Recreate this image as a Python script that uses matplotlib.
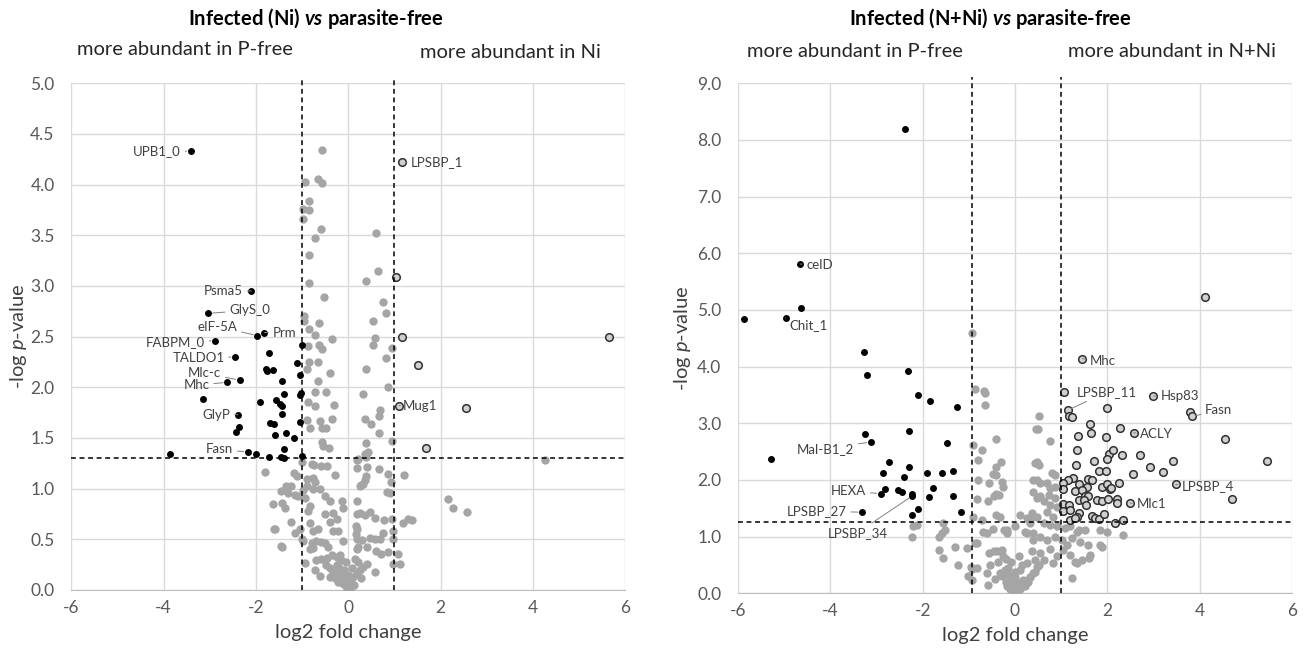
import matplotlib.pyplot as plt

plt.rcParams['font.family'] = ['Lato', 'DejaVu Sans']
plt.rcParams['axes.unicode_minus'] = False
plt.rcParams['mathtext.fontset'] = 'custom'
plt.rcParams['mathtext.rm'] = 'Lato'
plt.rcParams['mathtext.it'] = 'Lato:italic'
plt.rcParams['mathtext.bf'] = 'Lato:bold'
plt.rcParams['mathtext.bfit'] = 'Lato:bold:italic'

# ---------------- left panel: Infected (Ni) vs parasite-free ----------------
ni_gray_x = [-0.57, -0.93, -0.65, -0.56, -0.85, -0.98, -0.84, -0.98, -0.60, -0.73, -0.85, -0.85,
             -0.53, -0.96, -0.96, -0.85, -0.63, -0.73, -0.35, -0.87, -0.63, -0.57, -0.84, -0.66,
             -0.90, -0.40, -0.66, -0.71, -0.49, -0.88, -0.71, -0.31, -0.89, -0.61, -0.36, -0.83,
             -0.57, -0.49, -0.56, -0.54, -0.42,
             0.61, 0.65, 0.38, 0.76, 0.82, 0.53, 0.59, 0.53, 0.94, 0.82, 0.38, 0.87, 0.32, 0.69,
             0.67, 0.36, 0.49, 0.67, 0.95, 0.38, 0.36, 0.42, 4.27, 0.22,
             -1.01, -0.74, -0.58, -0.45, -0.79, -0.29, -1.80, -1.17, -1.12, -0.89, -0.72, -0.76,
             0.19, 0.38, 0.19, 0.41, 0.66, 0.38, 0.32, 0.93, 1.21, 0.91, 0.27, 0.36,
             -1.34, -1.23, -1.45, -1.30, -0.97, -0.89, -0.76, -0.62, -1.16, -1.08, -0.94, -0.51,
             -0.40, -0.14, -0.12, 0.18, 0.25, 0.83, -1.62, -1.44, -1.37, -0.83, -0.87, -0.51,
             -0.32, -0.25, 0.18, 0.25, 0.36, 0.48, 0.58, 0.77, 0.94, 1.19, 1.30, 1.39, 2.16,
             2.28, 2.57, 0.86,
             -1.23, -1.59, -1.16, -1.05, -0.83, -0.76, -0.65, -0.40, -0.32, -0.22, 0.16, 0.18,
             0.17, 0.76, 0.97, 0.98,
             -1.01, -0.97, -1.44, -0.79, -0.69, -0.58, -0.51, -0.43, -0.83, -0.76, -0.12, 0.18,
             0.29, 0.47, 0.58, 0.69, 0.18, 0.22, 0.40, 0.61, 0.72, 0.87, 1.08,
             -0.94, -0.69, -0.58, -0.47, -0.36, -0.25, -0.18, -0.72, -0.61, -0.48, -0.40, -0.32,
             -0.25, -0.19, -0.14, -0.09, -0.04, 0.00, 0.04, 0.11, 0.18, 0.25, 0.32, -0.07, -0.14,
             -0.22, -0.29, 0.07, 0.40, 0.58, 0.97, 1.13, 0.22, 0.14, -0.40,
             -0.10, 0.00, -0.05, 0.08, -0.20, 0.12, -0.02, 0.05, -0.15, 0.28, -1.60, -1.46]
ni_gray_y = [4.34, 4.03, 4.06, 4.02, 3.84, 3.76, 3.75, 3.66, 3.56, 3.47, 3.31, 3.03,
             2.89, 2.70, 2.65, 2.58, 2.63, 2.52, 2.48, 2.41, 2.42, 2.38, 2.25, 2.25,
             2.18, 2.14, 2.06, 1.95, 1.95, 1.86, 1.82, 1.83, 1.68, 1.67, 1.69, 1.60,
             1.60, 1.60, 1.46, 1.42, 1.40,
             3.52, 3.15, 3.05, 2.84, 2.73, 2.65, 2.49, 2.42, 2.39, 2.29, 2.18, 2.00, 1.93, 1.78,
             1.72, 1.69, 1.64, 1.55, 1.47, 1.45, 1.34, 1.36, 1.28, 1.29,
             1.26, 1.23, 1.22, 1.22, 1.24, 1.13, 1.16, 1.15, 1.12, 1.10, 1.07, 1.11,
             1.28, 1.31, 1.20, 1.21, 1.19, 1.12, 1.05, 1.07, 1.13, 0.96, 1.04, 1.09,
             1.03, 1.03, 0.98, 0.96, 0.99, 1.03, 1.00, 1.00, 0.94, 0.93, 0.91, 0.93,
             0.88, 0.88, 0.81, 0.88, 1.03, 0.97, 0.85, 0.86, 0.81, 0.83, 0.78, 0.75,
             0.76, 0.70, 0.75, 0.76, 0.74, 0.77, 0.71, 0.69, 0.70, 0.66, 0.70, 0.69, 0.90,
             0.81, 0.77, 1.14,
             0.67, 0.60, 0.56, 0.60, 0.66, 0.58, 0.60, 0.67, 0.58, 0.58, 0.63, 0.60,
             0.55, 0.56, 0.58, 0.50,
             0.50, 0.48, 0.42, 0.46, 0.48, 0.47, 0.46, 0.42, 0.40, 0.41, 0.48, 0.50,
             0.49, 0.51, 0.50, 0.50, 0.40, 0.42, 0.42, 0.38, 0.36, 0.37, 0.36,
             0.27, 0.30, 0.31, 0.32, 0.35, 0.33, 0.35, 0.20, 0.14, 0.25, 0.22, 0.18,
             0.25, 0.22, 0.17, 0.13, 0.10, 0.05, 0.08, 0.13, 0.17, 0.20, 0.23, 0.05, 0.07,
             0.08, 0.12, 0.03, 0.26, 0.18, 0.26, 0.26, 0.28, 0.31, 0.13,
             0.20, 0.15, 0.28, 0.22, 0.15, 0.05, 0.00, 0.12, 0.30, 0.12, 0.60, 0.43]

ni_down_x = [-3.41, -2.10, -3.03, -1.82, -1.97, -2.89, -2.45, -2.35, -2.62, -3.14, -2.39, -2.36,
             -2.44, -2.17, -1.99, -3.87, -1.72, -1.45, -1.40, -1.00, -1.40, -1.72, -1.79, -1.77,
             -1.63, -1.44, -1.10, -1.04, -1.00, -1.05, -1.39, -1.91, -1.56, -1.48, -1.44, -1.44,
             -1.70, -1.61, -1.04, -1.59, -1.35, -1.18, -1.03]
ni_down_y = [4.33, 2.95, 2.73, 2.54, 2.51, 2.46, 2.30, 2.07, 2.05, 1.88, 1.73, 1.61,
             1.56, 1.36, 1.34, 1.34, 1.31, 1.31, 1.30, 1.32, 1.39, 2.34, 2.18, 2.16,
             2.17, 2.06, 2.24, 2.12, 2.42, 1.92, 1.93, 1.86, 1.87, 1.84, 1.82, 1.74,
             1.65, 1.64, 1.66, 1.53, 1.55, 1.50, 1.94]

ni_up_x = [1.17, 1.04, 1.16, 5.64, 1.51, 1.10, 2.55, 1.69]
ni_up_y = [4.22, 3.09, 2.50, 2.50, 2.22, 1.82, 1.80, 1.40]

# label, point, text position, alignment
ni_labels = [
    ('UPB1_0', (-3.41, 4.33), (-3.62, 4.33), 'right'),
    ('LPSBP_1', (1.17, 4.22), (1.36, 4.22), 'left'),
    ('Psma5', (-2.10, 2.95), (-2.28, 2.95), 'right'),
    ('GlyS_0', (-3.03, 2.73), (-2.58, 2.76), 'left'),
    ('eIF-5A', (-1.97, 2.51), (-2.40, 2.60), 'right'),
    ('Prm', (-1.82, 2.54), (-1.64, 2.54), 'left'),
    ('FABPM_0', (-2.89, 2.46), (-3.10, 2.45), 'right'),
    ('TALDO1', (-2.45, 2.30), (-2.68, 2.29), 'right'),
    ('Mlc-c', (-2.35, 2.07), (-2.75, 2.14), 'right'),
    ('Mhc', (-2.62, 2.05), (-3.00, 2.02), 'right'),
    ('GlyP', (-2.39, 1.73), (-2.55, 1.73), 'right'),
    ('Fasn', (-2.17, 1.36), (-2.49, 1.39), 'right'),
    ('Mug1', (1.10, 1.82), (1.19, 1.82), 'left'),
]

# ---------------- right panel: Infected (N+Ni) vs parasite-free ----------------
nni_gray_x = [-0.92, -0.87, -0.68, -0.65, -0.64, 0.51, 0.45, -0.41, 0.76, -0.90, -0.72, -0.79,
              -0.31, 0.47, -0.40, 0.44, -0.47, -0.40, -0.56, -0.79, -0.29, -0.25, -0.40, -0.45,
              -0.58, -0.83, -0.34, -0.40, -0.32, -0.72, -0.90, 0.47, 0.40, 0.36, 0.80, 0.87,
              0.47, 0.55, 0.69, 0.76, 0.87, 0.40, 0.55, 0.73, 0.87, 0.62, 0.76, 0.91, 0.36,
              0.47, 0.69, 0.83, 0.11, 0.26, 0.49, 0.51,
              0.32, 0.62, 0.76, 0.91, 1.09, 1.19, 1.34, 1.52, 1.84, 1.99, 2.35, -0.18, 0.00,
              0.22, 0.40, 0.55, 0.69, 0.87, 1.01, 1.12, 1.23, 1.41, 1.59, 1.84, 1.88, 1.05,
              1.19, 1.30, 1.45, 1.63, 0.76, 0.91, 0.83, 0.55, 0.62, 0.47, 0.40, 0.26, 0.11,
              0.00, -0.10, -0.18, 0.18, 0.33, 0.22, 1.24, 1.38,
              -2.13, -2.20, -2.22, -1.55, -1.52, -1.59, -1.65, -1.64, -1.30, -1.55, -1.23,
              -1.01, -0.96, -0.83, -0.87, -0.82, -0.69, -0.61, -0.47, -0.24, -0.18, -0.56,
              -0.45, -0.38, -0.29, -0.25, -0.36, -0.53, -0.61, -0.58, -0.43, -0.32, -0.22,
              -0.14, -0.11, -0.04, 0.04, 0.11, 0.32, 0.43, 0.51, 0.25, 0.40, 0.36, 0.43,
              -1.04, -0.93, -0.94, 1.34, 1.61,
              -0.05, 0.05, -0.10, 0.10, 0.00, -0.20, 0.15, -0.28, 0.28, -0.15, 0.00, 0.15,
              -0.08, 0.08, -0.20]
nni_gray_y = [4.60, 3.60, 3.57, 3.53, 3.32, 3.12, 2.89, 2.72, 2.68, 2.62, 2.53, 2.36,
              2.32, 2.32, 2.22, 2.29, 2.11, 2.09, 1.94, 2.00, 1.97, 1.88, 1.76, 1.71,
              1.62, 1.66, 1.74, 1.38, 1.34, 1.29, 1.35, 1.68, 2.00, 1.35, 2.12, 2.09,
              2.00, 1.94, 1.94, 1.85, 1.88, 1.79, 1.71, 1.74, 1.68, 1.62, 1.56, 1.53, 1.41,
              1.35, 1.44, 1.35, 1.38, 1.32, 2.89, 2.26,
              1.24, 1.24, 1.21, 1.18, 1.15, 1.18, 1.09, 1.12, 1.12, 1.09, 1.03, 1.12, 1.18,
              1.09, 1.06, 1.00, 0.94, 1.00, 0.94, 0.85, 0.97, 0.91, 0.85, 0.85, 0.81, 0.76,
              0.68, 0.56, 0.59, 0.68, 0.79, 0.65, 0.53, 0.71, 0.59, 0.47, 0.35, 0.53, 0.41,
              0.29, 0.18, 0.12, 0.24, 0.29, 0.12, 0.27, 1.12,
              1.21, 1.19, 1.00, 1.24, 1.11, 1.06, 1.00, 0.76, 0.81, 0.62, 0.50,
              0.31, 0.46, 0.44, 0.88, 0.89, 1.09, 1.06, 1.13, 1.11, 1.06, 0.71,
              0.74, 0.75, 0.76, 0.65, 0.56, 0.50, 0.35, 0.15, 0.25, 0.35, 0.41,
              0.32, 0.24, 0.18, 0.12, 0.18, 0.29, 0.38, 0.50, 1.06, 0.94, 0.74, 0.59,
              0.80, 0.42, 0.24, 0.54, 0.62,
              0.05, 0.03, 0.08, 0.08, 0.10, 0.20, 0.15, 0.30, 0.20, 0.45, 0.38, 0.50,
              0.55, 0.65, 0.60]

nni_down_x = [-2.39, -4.65, -4.63, -4.97, -5.87, -5.28, -3.28, -3.20, -2.32, -2.10, -1.83, -1.26,
              -3.25, -3.12, -2.30, -1.47, -2.72, -2.86, -2.29, -2.40, -1.91, -1.59, -1.35, -2.82,
              -2.91, -2.53, -2.45, -2.24, -2.22, -1.77, -1.86, -1.35, -3.31, -2.11, -2.24, -1.16]
nni_down_y = [8.20, 5.81, 5.04, 4.86, 4.84, 2.37, 4.26, 3.86, 3.92, 3.50, 3.39, 3.28,
              2.81, 2.67, 2.87, 2.65, 2.31, 2.13, 2.22, 2.06, 2.13, 2.13, 2.16, 1.84,
              1.76, 1.82, 1.78, 1.75, 1.72, 1.86, 1.69, 1.72, 1.43, 1.48, 1.38, 1.44]

nni_up_x = [4.12, 1.46, 1.07, 3.00, 1.14, 1.99, 1.18, 1.24, 3.79, 3.84, 1.62, 1.65, 1.36, 1.97,
            2.27, 2.57, 4.56, 1.34, 2.04, 2.13, 1.99, 2.31, 2.71, 1.71, 1.33, 3.42, 5.47, 2.93,
            3.20, 2.56, 1.81, 1.98, 1.26, 1.15, 1.59, 1.66, 1.03, 1.03, 1.38, 1.55, 1.89, 2.00,
            2.06, 2.25, 3.48, 1.30, 1.46, 2.08, 4.71, 1.52, 1.58, 1.39, 1.50, 1.77, 1.89, 2.02,
            2.20, 2.22, 2.50, 1.53, 1.03, 1.16, 1.05, 1.19, 1.39, 1.34, 1.66, 1.73, 1.82, 1.93,
            1.20, 1.29, 2.16, 2.33]
nni_up_y = [5.23, 4.14, 3.56, 3.48, 3.23, 3.27, 3.13, 3.11, 3.19, 3.12, 2.98, 2.83, 2.78, 2.75,
            2.92, 2.83, 2.72, 2.52, 2.46, 2.53, 2.37, 2.44, 2.44, 2.33, 2.27, 2.33, 2.34, 2.22,
            2.14, 2.10, 2.15, 2.15, 2.03, 2.00, 2.01, 2.00, 1.94, 1.84, 1.92, 1.88, 1.87, 1.93,
            1.84, 1.94, 1.92, 1.81, 1.82, 1.85, 1.66, 1.71, 1.71, 1.65, 1.65, 1.65, 1.63, 1.66,
            1.66, 1.60, 1.59, 1.55, 1.58, 1.55, 1.46, 1.47, 1.42, 1.35, 1.36, 1.33, 1.31, 1.40,
            1.29, 1.32, 1.24, 1.29]

nni_labels = [
    ('celD', (-4.65, 5.81), (-4.52, 5.80), 'left'),
    ('Chit_1', (-4.97, 4.86), (-4.88, 4.74), 'left'),
    ('Mal-B1_2', (-3.12, 2.67), (-3.48, 2.55), 'right'),
    ('HEXA', (-2.91, 1.76), (-3.22, 1.80), 'right'),
    ('LPSBP_27', (-3.31, 1.43), (-3.64, 1.45), 'right'),
    ('LPSBP_34', (-2.22, 1.72), (-2.76, 1.07), 'right'),
    ('Mhc', (1.46, 4.14), (1.63, 4.10), 'left'),
    ('LPSBP_11', (1.14, 3.23), (1.34, 3.55), 'left'),
    ('Hsp83', (3.00, 3.48), (3.15, 3.48), 'left'),
    ('Fasn', (3.84, 3.12), (4.12, 3.23), 'left'),
    ('ACLY', (2.57, 2.83), (2.71, 2.81), 'left'),
    ('LPSBP_4', (3.48, 1.92), (3.62, 1.90), 'left'),
    ('Mlc1', (2.50, 1.59), (2.63, 1.57), 'left'),
]

GRAY = '#a5a5a5'
TEXT = '#404040'


def volcano(ax, gx, gy, dx, dy, ux, uy, labels, ymax, ystep, xcut, ycut, ylab_x):
    ax.set_xlim(-6, 6)
    ax.set_ylim(0, ymax)
    ax.set_xticks(range(-6, 7, 2))
    yt = [i * ystep for i in range(int(round(ymax / ystep)) + 1)]
    ax.set_yticks(yt)
    ax.set_yticklabels(['%.1f' % v for v in yt])
    ax.grid(True, color='#d9d9d9', lw=1)
    ax.set_axisbelow(True)
    for s in ['top', 'right', 'left']:
        ax.spines[s].set_visible(False)
    ax.spines['bottom'].set_color('#bfbfbf')
    ax.tick_params(length=0, labelsize=12.5, labelcolor='#595959')
    ax.tick_params(axis='y', pad=12)
    ax.tick_params(axis='x', pad=7)

    ax.scatter(gx, gy, s=36, color=GRAY, lw=0, zorder=3)
    ax.scatter(dx, dy, s=25, color='black', lw=0, zorder=4)
    ax.scatter(ux, uy, s=30, facecolor='#d0d0d0', edgecolor='#303030', lw=1.1, zorder=4)

    dash = (0, (3.2, 2.4))
    for xc in xcut:
        ax.plot([xc, xc], [0, ymax * 1.012], color='black', lw=1.1, ls=dash,
                clip_on=False, zorder=5)
    ax.axhline(ycut, color='black', lw=1.1, ls=dash, zorder=5)

    for name, pt, txt, ha in labels:
        ax.annotate(name, xy=pt, xytext=txt, ha=ha, va='center', fontsize=9.5,
                    color=TEXT, zorder=6,
                    arrowprops=dict(arrowstyle='-', color='#808080', lw=0.7,
                                    shrinkA=1, shrinkB=3))

    ax.set_xlabel('log2 fold change', fontsize=14.5, color='#404040', labelpad=6)
    ax.set_ylabel('-log $p$-value', fontsize=14.5, color='#404040')
    ax.yaxis.set_label_coords(ylab_x, 0.5)


fig = plt.figure(figsize=(13.05, 6.57), dpi=100)
ax1 = fig.add_axes([0.0546, 0.102, 0.4245, 0.7712])
ax2 = fig.add_axes([0.5655, 0.097, 0.4245, 0.7763])

volcano(ax1, ni_gray_x, ni_gray_y, ni_down_x, ni_down_y, ni_up_x, ni_up_y, ni_labels,
        5.0, 0.5, [-1.0, 1.0], 1.30, -0.076)
volcano(ax2, nni_gray_x, nni_gray_y, nni_down_x, nni_down_y, nni_up_x, nni_up_y, nni_labels,
        9.0, 1.0, [-0.92, 1.0], 1.26, -0.081)

fig.text(0.242, 0.972, r'Infected (Ni) $\mathbfit{vs}$ parasite-free', ha='center', va='center',
         fontsize=14.5, fontweight='bold', color='black')
fig.text(0.759, 0.972, r'Infected (N+Ni) $\mathbfit{vs}$ parasite-free', ha='center', va='center',
         fontsize=14.5, fontweight='bold', color='black')
fig.text(0.142, 0.924, 'more abundant in P-free', ha='center', va='center', fontsize=14.5, color='#262626')
fig.text(0.391, 0.920, 'more abundant in Ni', ha='center', va='center', fontsize=14.5, color='#262626')
fig.text(0.655, 0.921, 'more abundant in P-free', ha='center', va='center', fontsize=14.5, color='#262626')
fig.text(0.898, 0.921, 'more abundant in N+Ni', ha='center', va='center', fontsize=14.5, color='#262626')

fig.savefig('out.png', dpi=100)
